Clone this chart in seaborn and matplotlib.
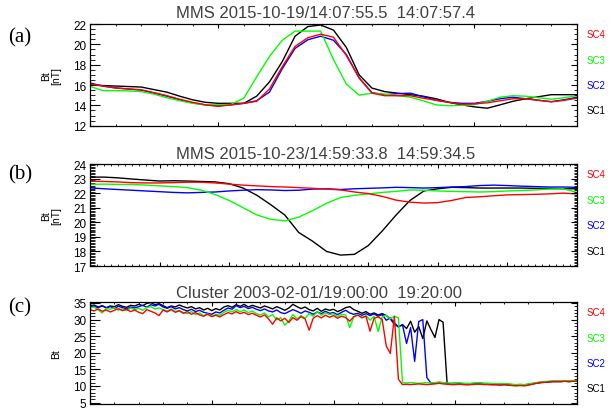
import numpy as np
import pandas as pd
import matplotlib
matplotlib.use("Agg")
import matplotlib.pyplot as plt
from matplotlib.ticker import MultipleLocator, NullFormatter
import seaborn as sns

# ---------------------------------------------------------------------------
# Panel (a): MMS 2015-10-19, seconds after 14:07:00, 0.05 s cadence
a_time = np.round(np.arange(55.5, 57.4001, 0.05), 3)
a_sc1 = [16.0, 15.95, 15.9, 15.85, 15.8, 15.55, 15.3, 14.9, 14.55, 14.3,
         14.2, 14.2, 14.2, 14.9, 16.3, 18.3, 20.8, 21.75, 21.9, 21.4,
         19.7, 17.0, 15.7, 15.35, 15.2, 15.05, 14.9, 14.65, 14.3, 14.05,
         13.85, 13.72, 14.05, 14.4, 14.65, 14.85, 15.05, 15.05, 15.05]
a_sc2 = [16.2, 15.9, 15.72, 15.6, 15.5, 15.2, 14.9, 14.55, 14.25, 14.05,
         13.97, 14.05, 14.2, 14.45, 15.3, 17.6, 19.6, 20.45, 20.8, 20.4,
         19.0, 16.7, 15.25, 15.05, 15.15, 15.2, 14.85, 14.5, 14.3, 14.2,
         14.2, 14.4, 14.65, 14.8, 14.65, 14.5, 14.36, 14.55, 14.8]
a_sc3 = [15.87, 15.45, 15.45, 15.42, 15.35, 15.1, 14.75, 14.45, 14.2, 14.05,
         14.05, 14.1, 14.7, 16.8, 18.8, 20.4, 21.3, 21.3, 21.3, 18.5,
         16.1, 15.0, 15.2, 15.1, 14.95, 14.8, 14.45, 14.05, 13.97, 14.0,
         14.07, 14.4, 14.8, 14.95, 14.9, 14.75, 14.6, 14.75, 14.95]
a_sc4 = [16.1, 15.9, 15.7, 15.62, 15.53, 15.25, 14.95, 14.6, 14.3, 14.05,
         13.9, 14.05, 14.2, 14.4, 15.6, 17.8, 19.8, 20.65, 21.0, 20.7,
         18.9, 16.7, 15.2, 14.95, 14.95, 14.95, 14.7, 14.5, 14.3, 14.1,
         14.15, 14.25, 14.45, 14.65, 14.65, 14.5, 14.35, 14.5, 14.7]

# Panel (b): MMS 2015-10-23, seconds after 14:59:00, 0.02 s cadence
b_time = np.round(np.arange(33.8, 34.5001, 0.02), 3)
b_sc1 = [23.1, 23.1, 23.05, 22.97, 22.9, 22.83, 22.85, 22.83, 22.8, 22.77,
         22.65, 22.35, 21.85, 21.2, 20.5, 19.3, 18.7, 18.0, 17.75, 17.8,
         18.4, 19.4, 20.5, 21.5, 22.15, 22.3, 22.4, 22.38, 22.35, 22.35,
         22.35, 22.35, 22.33, 22.32, 22.3, 22.3]
b_sc2 = [22.36, 22.3, 22.25, 22.2, 22.15, 22.1, 22.05, 22.02, 22.05, 22.08,
         22.15, 22.2, 22.24, 22.22, 22.18, 22.2, 22.28, 22.3, 22.25, 22.3,
         22.33, 22.36, 22.4, 22.38, 22.35, 22.38, 22.42, 22.45, 22.52, 22.55,
         22.52, 22.48, 22.45, 22.42, 22.42, 22.4]
b_sc3 = [22.6, 22.62, 22.6, 22.6, 22.55, 22.5, 22.45, 22.38, 22.2, 21.9,
         21.5, 21.0, 20.5, 20.2, 20.1, 20.35, 20.8, 21.3, 21.7, 21.85,
         21.95, 22.05, 22.12, 22.22, 22.2, 22.15, 22.12, 22.1, 22.08, 22.1,
         22.15, 22.18, 22.22, 22.28, 22.3, 22.05]
b_sc4 = [22.82, 22.8, 22.77, 22.72, 22.7, 22.7, 22.72, 22.75, 22.75, 22.7,
         22.62, 22.55, 22.5, 22.45, 22.42, 22.38, 22.33, 22.28, 22.22, 22.08,
         21.97, 21.78, 21.52, 21.38, 21.32, 21.35, 21.5, 21.7, 21.75, 21.82,
         21.88, 21.9, 21.92, 21.95, 22.0, 21.95]

# Panel (c): Cluster 2003-02-01, minutes after 19:00:00, 10 s cadence
c_time = np.round(np.arange(0, 121) / 6.0, 4)
c_sc1 = [34.0, 34.4, 33.8, 34.2, 33.6, 34.1, 33.9, 34.5, 34.0, 33.7, 34.3, 34.1,
         34.6, 34.2, 34.9, 35.1, 34.5, 34.8, 34.2, 33.6, 34.1, 33.8, 34.4, 33.9,
         33.5, 33.9, 33.2, 33.6, 32.9, 33.4, 32.7, 33.3, 32.9, 33.8, 34.2, 33.7,
         34.5, 34.0, 34.6, 33.8, 34.3, 33.9, 33.5, 34.1, 33.7, 33.2, 33.9, 33.4,
         32.8, 33.5, 34.6, 33.9, 33.3, 33.8, 33.0, 32.6, 33.4, 32.5, 33.2, 32.8,
         33.1, 32.4, 32.9, 33.6, 33.9, 33.0, 32.5, 31.9, 32.4, 31.6, 32.0, 31.4,
         31.8, 31.2, 30.2, 28.6, 27.8, 28.5, 27.3, 29.5, 26.2, 27.9, 24.3, 29.6,
         27.0, 24.6, 30.0, 29.2,
         10.6, 10.7, 10.8, 10.7, 10.6, 10.7, 10.6, 10.7, 10.8, 10.7, 10.6, 10.5,
         10.5, 10.4, 10.5, 10.4, 10.3, 10.2, 10.3, 10.2, 10.4, 10.6, 10.8, 11.0,
         11.1, 11.2, 11.3, 11.3, 11.3, 11.4, 11.3, 11.4, 11.4]
c_sc2 = [34.5, 34.0, 33.6, 34.1, 33.5, 33.9, 33.4, 34.0, 33.6, 33.2, 33.8, 33.5,
         33.9, 34.3, 33.7, 34.5, 34.1, 34.6, 33.8, 33.4, 33.9, 33.2, 33.6, 33.0,
         32.6, 33.1, 32.4, 32.8, 32.2, 31.9, 31.6, 32.3, 32.0, 32.8, 33.5, 33.1,
         34.2, 33.6, 34.0, 33.3, 33.7, 33.1, 32.7, 33.2, 32.6, 32.3, 32.9, 32.1,
         31.8, 32.4, 33.0, 32.5, 31.9, 32.6, 32.2, 31.6, 32.3, 31.8, 32.5, 31.9,
         32.1, 31.5, 32.2, 32.8, 32.0, 31.6, 31.9, 31.3, 31.8, 31.2, 31.7, 31.0,
         31.5, 29.8, 30.5, 29.0, 27.8, 28.4, 22.8, 27.6, 17.4, 29.4, 30.0, 12.5,
         10.9, 10.8, 10.9, 11.0, 10.8, 10.7, 10.7, 10.8, 10.7, 10.6, 10.7, 10.8,
         10.8, 10.7, 10.7, 10.6, 10.6, 10.5, 10.6, 10.5, 10.4, 10.3, 10.4, 10.3,
         10.5, 10.7, 10.9, 11.1, 11.2, 11.3, 11.4, 11.4, 11.4, 11.5, 11.4, 11.5,
         11.5]
c_sc3 = [33.5, 33.8, 32.9, 32.0, 33.4, 33.1, 33.6, 32.8, 33.3, 32.7, 33.5, 33.0,
         33.4, 32.8, 33.6, 33.9, 33.2, 33.5, 33.0, 32.6, 33.2, 32.4, 32.8, 32.1,
         31.8, 32.4, 31.5, 32.0, 31.2, 31.7, 31.0, 31.6, 31.3, 32.2, 32.8, 32.3,
         33.0, 32.4, 32.9, 32.1, 32.6, 31.8, 31.4, 32.0, 30.8, 31.5, 29.9, 30.6,
         28.3, 29.6, 31.5, 30.2, 31.2, 30.4, 31.8, 31.0, 32.4, 31.3, 32.0, 31.5,
         31.8, 30.9, 31.6, 31.4, 27.6, 30.8, 31.6, 30.5, 31.2, 29.8, 31.0, 26.4,
         30.8, 31.3, 30.2, 31.0, 30.5, 11.0, 10.9, 11.0, 10.9, 10.8, 10.9, 11.0,
         10.9, 11.0, 11.2, 11.0, 10.9, 10.8, 10.8, 10.9, 10.8, 10.7, 10.8, 10.9,
         10.9, 10.8, 10.8, 10.7, 10.7, 10.6, 10.7, 10.6, 10.5, 10.4, 10.5, 10.4,
         10.6, 10.8, 11.0, 11.2, 11.3, 11.4, 11.5, 11.5, 11.5, 11.6, 11.5, 11.6,
         11.6]
c_sc4 = [33.0, 32.6, 33.2, 32.5, 32.9, 32.3, 32.8, 33.3, 32.7, 33.1, 32.4, 32.9,
         32.2, 31.8, 33.0, 32.5, 32.0, 31.2, 32.9, 32.3, 33.0, 32.2, 32.6, 31.9,
         32.4, 31.6, 32.1, 31.4, 31.0, 31.6, 30.9, 31.3, 30.8, 31.5, 32.1, 31.7,
         32.4, 31.8, 32.2, 31.5, 31.9, 31.3, 30.8, 31.4, 30.2, 28.6, 30.5, 29.6,
         30.4, 29.1, 30.6, 29.8, 30.9, 30.2, 26.8, 30.4, 31.2, 30.5, 31.3, 30.7,
         31.2, 30.4, 31.0, 30.6, 29.5, 30.9, 31.3, 30.6, 31.0, 26.5, 30.4, 30.8,
         30.0, 22.0, 19.8, 31.0, 12.0, 10.4, 10.5, 10.4, 10.5, 10.6, 10.5, 10.4,
         10.5, 10.6, 10.8, 10.6, 10.5, 10.4, 10.4, 10.5, 10.4, 10.3, 10.4, 10.5,
         10.5, 10.4, 10.4, 10.3, 10.3, 10.2, 10.3, 10.2, 10.1, 10.0, 10.1, 10.0,
         10.2, 10.5, 10.8, 11.0, 11.1, 11.2, 11.3, 11.3, 11.3, 11.4, 11.3, 11.4,
         11.4]

craft = ["SC1", "SC2", "SC3", "SC4"]
craft_colors = {"SC1": "#000000", "SC2": "#0000ff", "SC3": "#00ff00", "SC4": "#ff0000"}

titles = ["MMS 2015-10-19/14:07:55.5  14:07:57.4",
          "MMS 2015-10-23/14:59:33.8  14:59:34.5",
          "Cluster 2003-02-01/19:00:00  19:20:00"]
panel_tags = ["(a)", "(b)", "(c)"]
y_labels = ["Bt\n[nT]", "Bt\n[nT]", "Bt"]

# ---------------------------------------------------------------------------
sns.set_theme(style="ticks")
plt.rcParams["font.family"] = ["Liberation Sans", "DejaVu Sans"]
plt.rcParams["axes.linewidth"] = 0.9

W, H = 615, 410
fig = plt.figure(figsize=(W / 100, H / 100), dpi=100)
fig.patch.set_facecolor("white")


def px_axes(left, top, right, bottom):
    return fig.add_axes([left / W, 1 - bottom / H, (right - left) / W, (bottom - top) / H])


def long_frame(t, series):
    return pd.DataFrame({
        "t": np.tile(t, len(series)),
        "Bt": np.concatenate([np.asarray(s, float) for s in series]),
        "sc": np.repeat(craft, len(t)),
    })


def style_axes(ax, xlim, ylim, xmaj, xmin, ymaj, ymin):
    ax.set_xlim(*xlim)
    ax.set_ylim(*ylim)
    ax.set_facecolor("white")
    for sp in ax.spines.values():
        sp.set_visible(True)
        sp.set_color("black")
        sp.set_linewidth(0.9)
    ax.xaxis.set_major_locator(MultipleLocator(xmaj))
    ax.xaxis.set_minor_locator(MultipleLocator(xmin))
    ax.xaxis.set_major_formatter(NullFormatter())
    ax.yaxis.set_major_locator(MultipleLocator(ymaj))
    ax.yaxis.set_minor_locator(MultipleLocator(ymin))
    ax.set_xlabel("")
    ax.tick_params(axis="x", which="major", direction="in", bottom=True, top=True,
                   length=2.6, width=0.8, color="black")
    ax.tick_params(axis="x", which="minor", direction="in", bottom=True, top=True,
                   length=1.4, width=0.6, color="black")
    ax.tick_params(axis="y", which="major", direction="in", left=True, right=False,
                   length=7, width=0.8, labelsize=8.5, pad=2.5, color="black",
                   labelcolor="black")
    ax.tick_params(axis="y", which="minor", direction="in", left=True, right=False,
                   length=3.5, width=0.6, color="black")
    # right-hand axis carries its own, shorter ticks
    axr = ax.twinx()
    axr.set_ylim(*ylim)
    axr.yaxis.set_major_locator(MultipleLocator(ymaj))
    axr.yaxis.set_minor_locator(MultipleLocator(ymin))
    axr.yaxis.set_major_formatter(NullFormatter())
    axr.tick_params(axis="y", which="major", direction="in", right=True, length=4,
                    width=0.8, color="black")
    axr.tick_params(axis="y", which="minor", direction="in", right=True, length=2,
                    width=0.6, color="black")
    axr.grid(False)
    for sp in axr.spines.values():
        sp.set_visible(False)


panels = [
    dict(box=(90, 25, 577, 126.7), t=a_time, s=[a_sc1, a_sc2, a_sc3, a_sc4],
         xlim=(55.5, 57.4), ylim=(12, 22), xt=(1.0, 0.1), yt=(2, 0.5),
         title_base=18.5, tag_base=42),
    dict(box=(90, 165, 577, 267), t=b_time, s=[b_sc1, b_sc2, b_sc3, b_sc4],
         xlim=(33.8, 34.5), ylim=(17, 24), xt=(0.1, 0.01), yt=(1, 0.1),
         title_base=159.5, tag_base=179),
    dict(box=(90, 303, 577, 404.5), t=c_time, s=[c_sc1, c_sc2, c_sc3, c_sc4],
         xlim=(0, 20), ylim=(4.7, 35.3), xt=(5, 1), yt=(5, 1),
         title_base=298.5, tag_base=312),
]

legend_frac = {"SC4": 0.90, "SC3": 0.65, "SC2": 0.40, "SC1": 0.15}

for k, p in enumerate(panels):
    ax = px_axes(*p["box"])
    df = long_frame(p["t"], p["s"])
    sns.lineplot(data=df, x="t", y="Bt", hue="sc", hue_order=craft,
                 palette=craft_colors, estimator=None, sort=False,
                 legend=False, linewidth=1.0, ax=ax)
    style_axes(ax, p["xlim"], p["ylim"], *p["xt"], *p["yt"])
    ax.set_ylabel(y_labels[k], fontsize=7.5, linespacing=0.95, color="black")
    ax.yaxis.set_label_coords(-0.06, 0.5)

    fig.text(176 / W, 1 - p["title_base"] / H, titles[k], ha="left", va="baseline",
             fontsize=12, color="#404040")
    fig.text(8 / W, 1 - p["tag_base"] / H, panel_tags[k], ha="left", va="baseline",
             fontsize=15, family=["Liberation Serif", "DejaVu Serif"], color="black")
    for name in craft:
        ax.text(1.0205, legend_frac[name], name, transform=ax.transAxes,
                ha="left", va="center", fontsize=7, color=craft_colors[name])

fig.savefig("out.png", dpi=100, facecolor="white")
